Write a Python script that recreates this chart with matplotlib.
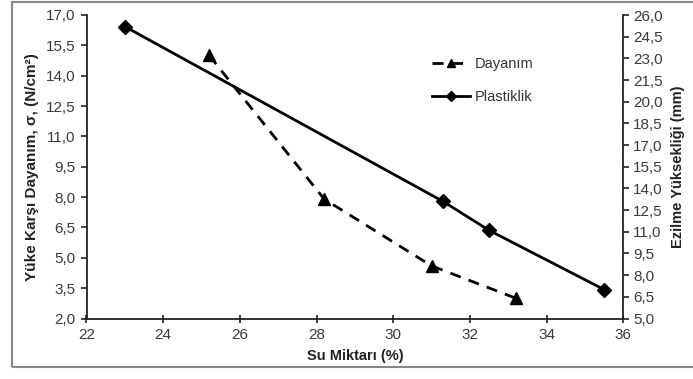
import matplotlib
matplotlib.use("Agg")
import matplotlib.pyplot as plt
from matplotlib.ticker import FuncFormatter
from matplotlib.patches import Rectangle
import numpy as np

# Data
dayanim_x = [25.2, 28.2, 31.0, 33.2]
dayanim_y = [15.0, 7.9, 4.6, 3.0]
plastik_x = [23.0, 31.3, 32.5, 35.5]
plastik_y = [25.2, 13.1, 11.1, 7.0]
left_ticks = np.arange(2.0, 17.01, 1.5)
right_ticks = np.arange(5.0, 26.01, 1.5)
x_ticks = [22, 24, 26, 28, 30, 32, 34, 36]

plt.rcParams['font.family'] = ['Liberation Sans', 'DejaVu Sans']

W, H = 693, 379
fig = plt.figure(figsize=(W / 100, H / 100), dpi=100)
fig.patch.set_facecolor('white')

# outer frame
fig.patches.append(Rectangle((12 / W, 1 - 367 / H), 1 - 12 / W + 0.01, (367 - 2) / H,
                             transform=fig.transFigure, fill=False,
                             edgecolor='#888888', linewidth=1.5))

ax = fig.add_axes([86.5 / W, 1 - 318.5 / H, (623.3 - 86.5) / W, (318.5 - 15) / H])
ax2 = ax.twinx()

ax.set_xlim(22, 36)
ax.set_ylim(2.0, 17.0)
ax2.set_ylim(5.0, 26.0)

fmt = FuncFormatter(lambda v, p: f"{v:.1f}".replace('.', ','))
ax.set_yticks(left_ticks)
ax.yaxis.set_major_formatter(fmt)
ax2.set_yticks(right_ticks)
ax2.yaxis.set_major_formatter(fmt)
ax.set_xticks(x_ticks)

for a in (ax, ax2):
    a.spines['top'].set_visible(False)
    for s in a.spines.values():
        s.set_linewidth(1.3)
        s.set_color('#222222')
    a.set_facecolor('none')

ax.spines['right'].set_visible(False)
ax2.spines['left'].set_visible(False)
ax2.spines['bottom'].set_visible(False)

tc = '#3a3a3a'
ax.tick_params(axis='y', direction='out', length=4, width=1.2, labelsize=11, colors='#222222', labelcolor=tc, pad=4)
ax.tick_params(axis='x', direction='inout', length=6, width=1.2, labelsize=11, colors='#222222', labelcolor=tc, pad=4)
ax2.tick_params(axis='y', direction='out', length=4, width=1.2, labelsize=11, colors='#222222', labelcolor=tc, pad=3)

l1, = ax.plot(dayanim_x, dayanim_y, color='black', linestyle=(0, (4, 3)), linewidth=2,
              marker='^', markersize=8, label='Dayanım')
l2, = ax2.plot(plastik_x, plastik_y, color='black', linestyle='-', linewidth=2,
               marker='D', markersize=7, label='Plastiklik')

ax.set_xlabel('Su Miktarı (%)', fontsize=10.5, fontweight='bold', labelpad=5, color='#222222')
ax.set_ylabel('Yüke Karşı Dayanım, σ, (N/cm²)', fontsize=11, fontweight='bold', labelpad=5, color='#222222')
ax2.set_ylabel('Ezilme Yüksekliği (mm)', fontsize=10.5, fontweight='bold', labelpad=6, color='#222222')

leg = ax.legend(handles=[l1, l2], loc='upper left', bbox_to_anchor=(0.62, 0.905),
                frameon=False, fontsize=10.5, handlelength=2.6, handletextpad=0.3,
                labelspacing=1.3, markerscale=0.8)
for t in leg.get_texts():
    t.set_color('#333333')

fig.savefig('out.png', dpi=100)
